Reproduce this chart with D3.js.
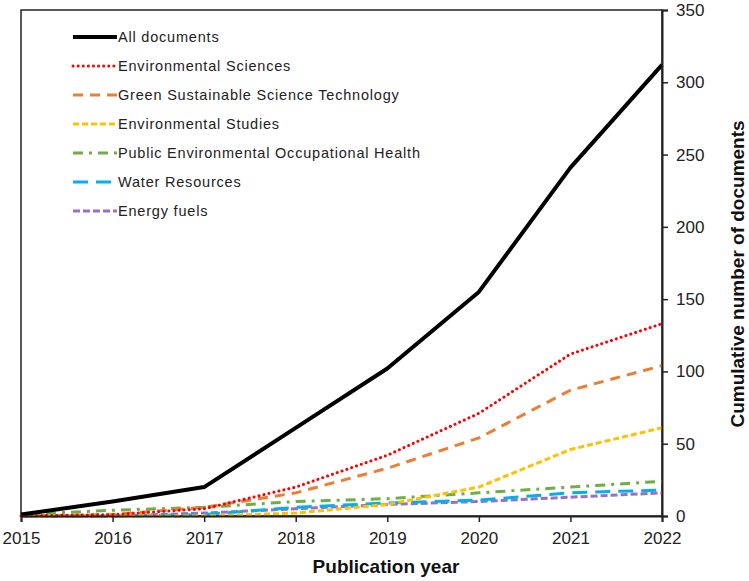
<!DOCTYPE html>
<html>
<head>
<meta charset="utf-8">
<script src="https://cdn.jsdelivr.net/npm/d3@7"></script>
<style>
  body { margin: 0; background: #fff; }
  text { font-family: "Liberation Sans", Arial, sans-serif; }
</style>
</head>
<body>
<div class="canvas"></div>
<script>
const years = [2015, 2016, 2017, 2018, 2019, 2020, 2021, 2022];
const allDocs = [1, 10, 20, 61, 102, 155, 241, 312];
const envSciences = [0, 1, 5, 20, 42, 71, 112, 133];
const greenSustainable = [0, 1, 6, 16, 33, 54, 87, 104];
const envStudies = [0, 0, 0, 2, 8, 20, 46, 61];
const publicHealth = [1, 4, 6, 10, 12, 16, 20, 24];
const waterResources = [0, 0, 1, 6, 9, 11, 16, 18];
const energyFuels = [0, 0, 2, 5, 8, 10, 13, 16];
const yTicks = [0, 50, 100, 150, 200, 250, 300, 350];

const series = [
  { name: 'All documents', values: allDocs, color: '#000', width: 4, dash: null, cap: 'butt' },
  { name: 'Environmental Sciences', values: envSciences, color: '#ff0000', width: 3, dash: '0.1 5', cap: 'round' },
  { name: 'Green Sustainable Science Technology', values: greenSustainable, color: '#ed7d31', width: 3, dash: '10 7', cap: 'butt' },
  { name: 'Environmental Studies', values: envStudies, color: '#ffc000', width: 3, dash: '6 3', cap: 'butt' },
  { name: 'Public Environmental Occupational Health', values: publicHealth, color: '#70ad47', width: 3, dash: '10 6 3 6', cap: 'butt' },
  { name: 'Water Resources', values: waterResources, color: '#00b0f0', width: 3, dash: '15 8', cap: 'butt' },
  { name: 'Energy fuels', values: energyFuels, color: '#9b6fc8', width: 3, dash: '7 3', cap: 'butt' }
];

const svg = d3.select('.canvas')
    .append('svg')
    .attr('width', 749)
    .attr('height', 581);

const margin = { top: 10, right: 87, bottom: 65, left: 21 };
const graphWidth = 749 - margin.left - margin.right;
const graphHeight = 581 - margin.top - margin.bottom;

const graph = svg.append('g')
    .attr('transform', `translate(${margin.left},${margin.top})`);

const x = d3.scaleLinear()
    .domain([2015, 2022])
    .range([0, graphWidth]);

const y = d3.scaleLinear()
    .domain([0, 350])
    .range([graphHeight, 0]);

// plot frame
graph.append('rect')
    .attr('width', graphWidth)
    .attr('height', graphHeight)
    .attr('fill', 'none')
    .attr('stroke', '#222')
    .attr('stroke-width', 1.5);

const line = d3.line()
    .x((d, i) => x(years[i]))
    .y(d => y(d));

// draw small series first so the black line sits on top
series.slice().reverse().forEach(s => {
  graph.append('path')
      .datum(s.values)
      .attr('d', line)
      .attr('fill', 'none')
      .attr('stroke', s.color)
      .attr('stroke-width', s.width)
      .attr('stroke-dasharray', s.dash)
      .attr('stroke-linecap', s.cap)
      .attr('stroke-linejoin', 'round');
});

const xAxis = d3.axisBottom(x)
    .tickValues(years)
    .tickFormat(d3.format('d'))
    .tickSizeOuter(0)
    .tickSize(6)
    .tickPadding(10);

const yAxis = d3.axisRight(y)
    .tickValues(yTicks)
    .tickSizeOuter(0)
    .tickSize(6)
    .tickPadding(8);

const xAxisGroup = graph.append('g')
    .attr('transform', `translate(0, ${graphHeight})`)
    .call(xAxis);
const yAxisGroup = graph.append('g')
    .attr('transform', `translate(${graphWidth}, 0)`)
    .call(yAxis);

[xAxisGroup, yAxisGroup].forEach(g => {
  g.select('.domain').attr('stroke', '#222').attr('stroke-width', 2);
  g.selectAll('.tick line').attr('stroke', '#222').attr('stroke-width', 1.5);
  g.selectAll('text')
      .attr('font-size', 17)
      .attr('fill', '#222')
      .style('font-family', '"Liberation Sans", Arial, sans-serif');
});

// axis titles
svg.append('text')
    .attr('x', 386)
    .attr('y', 573)
    .attr('text-anchor', 'middle')
    .attr('font-size', 19)
    .attr('font-weight', 'bold')
    .attr('fill', '#111')
    .text('Publication year');

svg.append('text')
    .attr('transform', `translate(744, 274) rotate(-90)`)
    .attr('text-anchor', 'middle')
    .attr('font-size', 19)
    .attr('font-weight', 'bold')
    .attr('fill', '#111')
    .text('Cumulative number of documents');

// legend
const legend = svg.append('g')
    .attr('transform', 'translate(73, 37)');

const rows = legend.selectAll('g')
    .data(series)
    .enter()
    .append('g')
    .attr('transform', (d, i) => `translate(0, ${i * 29})`);

rows.append('line')
    .attr('x1', 0)
    .attr('x2', 44)
    .attr('y1', 0)
    .attr('y2', 0)
    .attr('stroke', d => d.color)
    .attr('stroke-width', d => d.width)
    .attr('stroke-dasharray', d => d.dash)
    .attr('stroke-linecap', d => d.cap);

rows.append('text')
    .attr('x', 45)
    .attr('y', 5)
    .attr('font-size', 14.5)
    .attr('letter-spacing', 0.8)
    .attr('fill', '#222')
    .text(d => d.name);
</script>
</body>
</html>
